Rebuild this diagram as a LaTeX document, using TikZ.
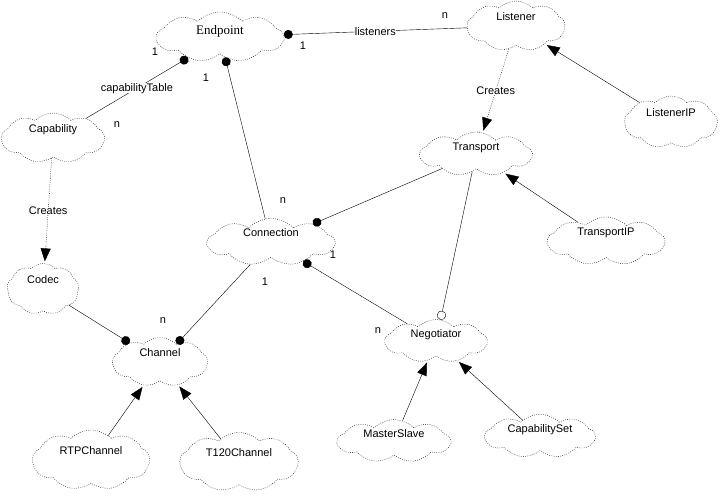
\documentclass[tikz,border=0pt]{standalone}
\usepackage{fontspec}
\setmainfont{Liberation Sans}
\newfontfamily\titlefont{Liberation Serif}
\usetikzlibrary{shapes.symbols,arrows.meta}

\begin{document}
\begin{tikzpicture}[x=1pt,y=-1pt]
    % Styles
    \tikzset{
      class/.style={cloud, cloud puffs=9, cloud puff arc=90, cloud ignores aspect,
        draw, dash pattern=on 0.8pt off 1.4pt, thin, inner sep=0pt, text depth=19pt,
        font=\fontsize{11}{13}\selectfont},
      has/.style={thin, -{Circle[length=9pt]}},
      uses/.style={thin, -{Circle[open,length=9pt]}},
      inherits/.style={thin, -{Triangle[length=13pt,width=10pt]}, shorten >=2pt},
      creates/.style={thin, dash pattern=on 0.8pt off 1.4pt,
        -{Triangle[length=13pt,width=10pt]}, shorten >=2pt},
      card/.style={font=\fontsize{11}{13}\selectfont, inner sep=0pt},
      role/.style={font=\fontsize{11}{13}\selectfont, inner sep=0pt, fill=white},
    }
    \useasboundingbox (0,0) rectangle (721,497);

    % --- Classes ---
    \node[class, minimum width=127pt, minimum height=50pt, text depth=15pt, font=\titlefont\fontsize{13}{15}\selectfont] (endp) at (220,37) {Endpoint};
    \node[class, minimum width=98pt, minimum height=50pt] (list) at (516,26) {Listener};
    \node[class, minimum width=93pt, minimum height=52pt] (listip) at (671,122) {ListenerIP};
    \node[class, minimum width=112pt, minimum height=44pt, text depth=15pt] (trans) at (476,154) {Transport};
    \node[class, minimum width=117pt, minimum height=48pt] (transip) at (606,241) {TransportIP};
    \node[class, minimum width=103pt, minimum height=50pt] (cap) at (53,138) {Capability};
    \node[class, minimum width=72pt, minimum height=51pt] (codec) at (43,289) {Codec};
    \node[class, minimum width=127pt, minimum height=47pt] (conn) at (271,242) {Connection};
    \node[class, minimum width=95pt, minimum height=49pt] (chan) at (160,362) {Channel};
    \node[class, minimum width=117pt, minimum height=60pt] (rtp) at (91,460) {RTPChannel};
    \node[class, minimum width=118pt, minimum height=59pt] (t120) at (239,462) {T120Channel};
    \node[class, minimum width=102pt, minimum height=43pt, text depth=15pt] (nego) at (436,341) {Negotiator};
    \node[class, minimum width=113pt, minimum height=42pt, text depth=15pt] (ms) at (394,441) {MasterSlave};
    \node[class, minimum width=110pt, minimum height=43pt, text depth=15pt] (capset) at (540,436) {CapabilitySet};

    % --- Associations ---
    \draw[has] (list) -- (endp) node[midway, role] (lblist) {listeners};
    \draw[has] (cap) -- (endp.213) node[midway, role] (lbcap) {capabilityTable};
    \draw[has] (conn) -- (endp);
    \draw[has] (trans) -- (conn);
    \draw[uses] (trans) -- (nego);
    \draw[has] (nego) -- (conn);
    \draw[has] (conn) -- (chan);
    \draw[has] (codec) -- (chan);

    % --- Creates ---
    \draw[creates] (cap) -- (codec) node[midway, role] (crcodec) {Creates};
    \draw[creates] (list) -- (trans) node[midway, role] (crtrans) {Creates};

    % --- Inheritance ---
    \draw[inherits] (listip) -- (list);
    \draw[inherits] (transip) -- (trans);
    \draw[inherits] (rtp) -- (chan);
    \draw[inherits] (t120) -- (chan);
    \draw[inherits] (ms) -- (nego);
    \draw[inherits] (capset) -- (nego);

    % --- Cardinalities ---
    \node[card] (m1) at (303,46) {1};
    \node[card] (m2) at (445,16) {n};
    \node[card] (m3) at (155,52) {1};
    \node[card] (m4) at (117,125) {n};
    \node[card] (m5) at (206,78) {1};
    \node[card] (m6) at (283,201) {n};
    \node[card] (m7) at (333,255) {1};
    \node[card] (m8) at (378,331) {n};
    \node[card] (m9) at (265,282) {1};
    \node[card] (m10) at (163,321) {n};

  \end{tikzpicture}
\end{document}
